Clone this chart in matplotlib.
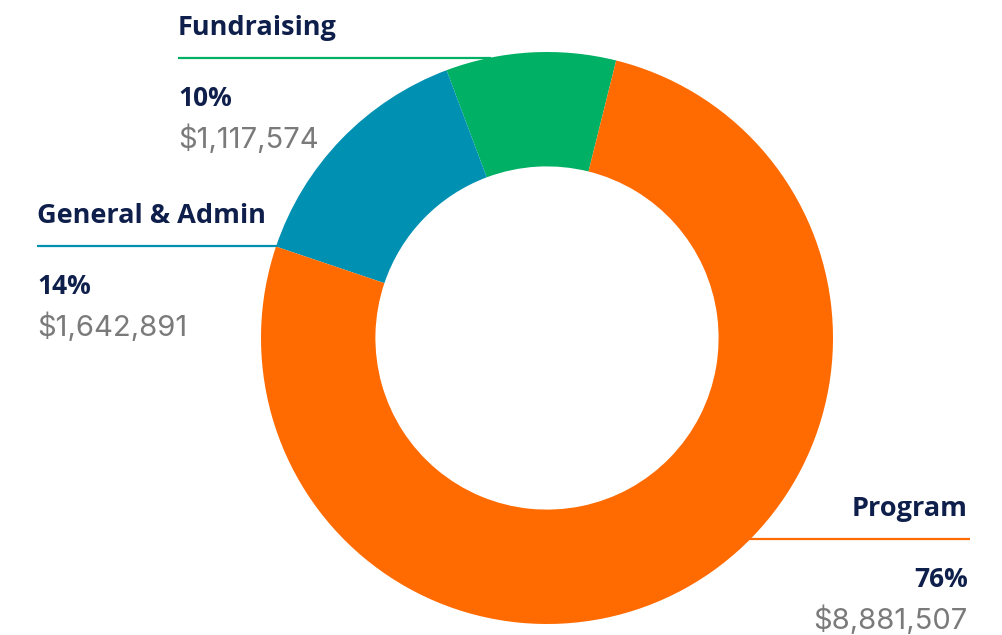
import matplotlib
matplotlib.use("Agg")
import matplotlib.pyplot as plt
import numpy as np

categories = ["Fundraising", "General & Admin", "Program"]
amounts = [1117574, 1642891, 8881507]
percent_labels = ["10%", "14%", "76%"]
value_labels = ["$1,117,574", "$1,642,891", "$8,881,507"]
colors = ["#00B064", "#0091B2", "#FF6B00"]

W, H = 1003, 635
fig = plt.figure(figsize=(W / 100, H / 100), dpi=100)
ax = fig.add_axes([0, 0, 1, 1])
ax.set_xlim(0, W)
ax.set_ylim(0, H)
ax.set_aspect("equal")
ax.axis("off")

cx, cy, R = 547, H - 338, 286
ax.pie(amounts, colors=colors, startangle=76, counterclock=True,
       radius=R, center=(cx, cy), frame=True,
       wedgeprops=dict(width=R * 0.4, linewidth=0, zorder=2))
ax.set_xlim(0, W)
ax.set_ylim(0, H)
ax.axis("off")

navy = "#0F1F4B"
gray = "#7A7A7A"
head_font = "Open Sans"
val_font = "Inter"

# label layout: (x, header baseline, align)
layout = [(178, 35, "left"), (37, 223, "left"), (968, 516, "right")]

for i, (x, yb, ha) in enumerate(layout):
    ly = yb + 23
    dy = abs(H - ly - cy)
    dx = np.sqrt(R ** 2 - dy ** 2)
    if ha == "left":
        x0, x1 = x, cx - dx + 2
    else:
        x0, x1 = cx + dx - 2, x + 2
    ax.plot([x0, x1], [H - ly, H - ly], color=colors[i], lw=1.6,
            solid_capstyle="butt", zorder=1)
    ax.text(x, H - yb, categories[i], ha=ha, va="baseline", color=navy,
            fontsize=19.5, fontweight="bold", family=head_font)
    ax.text(x, H - (yb + 71), percent_labels[i], ha=ha, va="baseline",
            color=navy, fontsize=19, fontweight="bold", family=head_font)
    ax.text(x, H - (yb + 113), value_labels[i], ha=ha, va="baseline",
            color=gray, fontsize=21, family=val_font)

fig.savefig("out.png", dpi=100)
